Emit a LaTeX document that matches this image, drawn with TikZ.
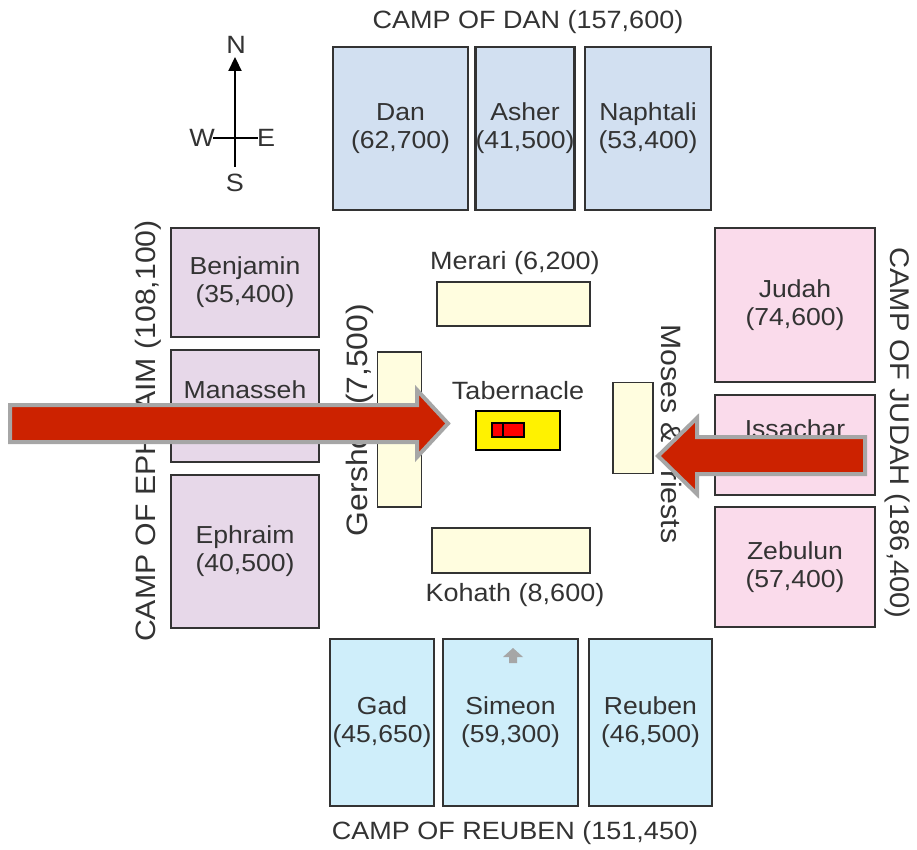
\documentclass[tikz,border=0pt]{standalone}
\usepackage{fontspec}
\setmainfont[FakeStretch=1.08]{Liberation Sans}
\usetikzlibrary{arrows.meta}
\definecolor{danc}{HTML}{D2E0F1}
\definecolor{ephc}{HTML}{E7D8E9}
\definecolor{judc}{HTML}{FADBEB}
\definecolor{reuc}{HTML}{CFEEFA}
\definecolor{levc}{HTML}{FFFDDF}
\definecolor{txt}{HTML}{333333}
\definecolor{bigred}{HTML}{CC2200}
\definecolor{outl}{HTML}{A6A6A6}
\begin{document}
\begin{tikzpicture}[x=1pt,y=-1pt,
  every node/.style={font=\fontsize{25}{28}\selectfont, text=txt, align=center, inner sep=0pt},
  fs/.style={font=\fontsize{#1}{28}\selectfont},
  tribe/.style={draw=txt, line width=2.3pt, minimum width=#1, fs=24.6},
  danbox/.style={tribe=#1, fill=danc, minimum height=163},
  reubox/.style={tribe=#1, fill=reuc, minimum height=167},
  ephbox/.style={tribe=148, fill=ephc, minimum height=#1},
  judbox/.style={tribe=160, fill=judc, minimum height=#1},
  levbox/.style={draw=txt, line width=1.8pt, fill=levc},
  bigarrow/.style={fill=bigred, draw=outl, line width=4pt, line join=miter}]
\useasboundingbox (0,0) rectangle (917,850);
% compass
\node (n) at (236,45) {N};
\node (s) at (235,183) {S};
\node (w) at (202,138) {W};
\node (e) at (266,138) {E};
\coordinate (vtop) at (235,57);
\coordinate (vbot) at (235,167);
\coordinate (hl) at (213,138);
\coordinate (hr) at (258,138);
\draw[line width=2.2pt, -{Triangle[length=14pt,width=13pt]}] (vbot) -- (vtop);
\draw[line width=2.2pt] (hl) -- (hr);
% titles
\node (tdan) at (528,22) {CAMP OF DAN (157,600)};
\node (treu) at (515,833) {CAMP OF REUBEN (151,450)};
\node[rotate=90, fs=28] (teph) at (148,431) {CAMP OF EPHRAIM (108,100)};
\node[rotate=-90, fs=27] (tjud) at (897,433) {CAMP OF JUDAH (186,400)};
% camp of Dan
\node[danbox=135] (dan) at (400.5,128.5) {Dan\\(62,700)};
\node[danbox=94] (asher) at (525,128.5) {Asher\\(41,500)};
\node[danbox=126] (naph) at (648,128.5) {Naphtali\\(53,400)};
% camp of Ephraim
\node[ephbox=109] (benj) at (245,282.5) {Benjamin\\(35,400)};
\node[ephbox=112] (man) at (245,406) {Manasseh\\(32,200)};
\node[ephbox=153] (eph) at (245,551.5) {Ephraim\\(40,500)};
% camp of Judah
\node[judbox=154] (jud) at (795,305) {Judah\\(74,600)};
\node[judbox=100] (iss) at (795,445) {Issachar\\(54,400)};
\node[judbox=120] (zeb) at (795,567) {Zebulun\\(57,400)};
% camp of Reuben
\node[reubox=104] (gad) at (382,722.5) {Gad\\(45,650)};
\node[reubox=135] (sim) at (510.5,722.5) {Simeon\\(59,300)};
\node[reubox=123] (reu) at (650.5,722.5) {Reuben\\(46,500)};
% Levites
\node[levbox, minimum width=153, minimum height=44] (mer) at (513.5,304) {};
\node (merl) at (515,263) {Merari (6,200)};
\node[levbox, minimum width=158, minimum height=45] (koh) at (511,550.5) {};
\node (kohl) at (515,595) {Kohath (8,600)};
\node[levbox, minimum width=44, minimum height=155] (ger) at (399.5,429.5) {};
\node[rotate=90, fs=29.5] (gerl) at (360,420) {Gershon (7,500)};
\node[levbox, minimum width=40, minimum height=91] (mos) at (633,428) {};
\node[rotate=-90, fs=28] (mosl) at (671,434) {Moses \& Priests};
% Tabernacle
\node (tabl) at (518,391) {Tabernacle};
\node[draw=black, line width=2pt, fill=yellow, minimum width=84, minimum height=39] (tab) at (518,430.5) {};
\node[draw=black, line width=2pt, fill=red, minimum width=32, minimum height=14] (ark) at (508,429.5) {};
\coordinate (arkdiv1) at (503,423);
\coordinate (arkdiv2) at (503,436);
\draw[line width=2pt] (arkdiv1) -- (arkdiv2);
% small gray arrow in Simeon
\fill[outl] (513,648) -- (523,657) -- (517,657) -- (517,663) -- (509,663) -- (509,657) -- (503,657) -- cycle;
% big arrows
\draw[bigarrow] (10,405) -- (417,405) -- (417,390) -- (448,423.5) -- (417,457) -- (417,442) -- (10,442) -- cycle;
\draw[bigarrow] (865,437) -- (697,437) -- (697,418) -- (658,456) -- (697,494) -- (697,474) -- (865,474) -- cycle;
\end{tikzpicture}
\end{document}
